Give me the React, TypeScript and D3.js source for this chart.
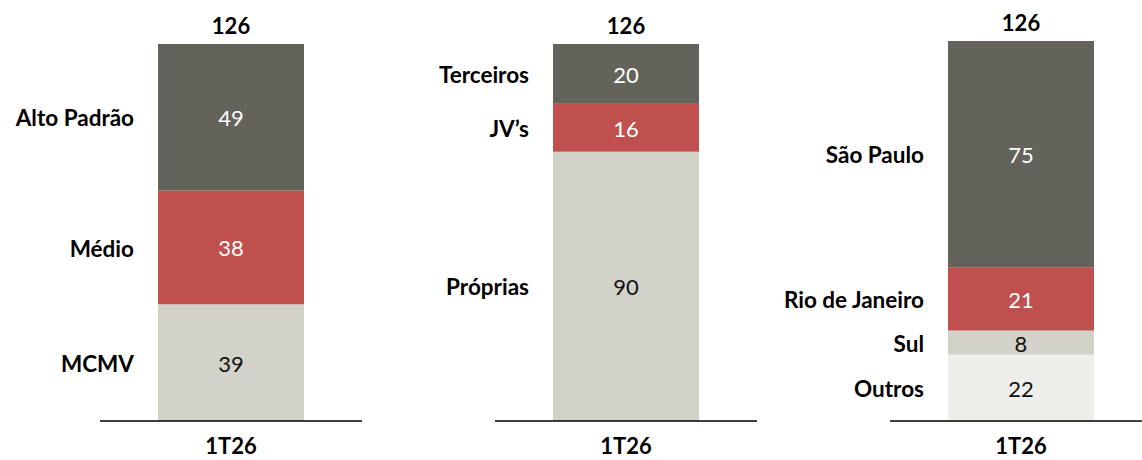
import { scaleLinear, scalePoint, stack } from "d3";

// one bar per panel, segments bottom -> top
const panels = ["segmento", "participacao", "regiao"];
const segLabels = [
  ["MCMV", "Médio", "Alto Padrão"],
  ["Próprias", "JV’s", "Terceiros"],
  ["Outros", "Sul", "Rio de Janeiro", "São Paulo"],
];
const segValues = [
  [39, 38, 49],
  [90, 16, 20],
  [22, 8, 21, 75],
];
const segColors = [
  ["#D2D2C9", "#C0504D", "#64635B"],
  ["#D2D2C9", "#C0504D", "#64635B"],
  ["#EEEEEB", "#D2D2C9", "#C0504D", "#64635B"],
];
const totals = [126, 126, 126];
const periodLabel = "1T26";
const panelTops = [44, 44, 41];

const W = 1142;
const H = 460;
const baseY = 421;
const barW = 146;
const axisHalf = 131;
const font = "Lato, 'Open Sans', sans-serif";

const darkFills = ["#64635B", "#C0504D"];

export default function App() {
  const x = scalePoint<string>().domain(panels).range([231, 1021]);

  return (
    <svg
      width={W}
      height={H}
      style={{ position: "absolute", left: 0, top: 0, background: "#fff" }}
      fontFamily={font}
    >
      {panels.map((p, i) => {
        const cx = x(p)!;
        const y = scaleLinear().domain([0, totals[i]]).range([baseY, panelTops[i]]);
        const keys = segValues[i].map((_, k) => String(k));
        const row: Record<string, number> = {};
        segValues[i].forEach((v, k) => (row[String(k)] = v));
        const series = stack<Record<string, number>>().keys(keys)([row]);

        return (
          <g key={p}>
            {series.map((s, k) => {
              const [y0, y1] = s[0];
              const top = y(y1);
              const bot = y(y0);
              const mid = (top + bot) / 2 + 1;
              const fill = segColors[i][k];
              return (
                <g key={k}>
                  <rect x={cx - barW / 2} y={top} width={barW} height={bot - top} fill={fill} />
                  <text
                    x={cx}
                    y={mid}
                    dy="0.36em"
                    textAnchor="middle"
                    fontSize={22}
                    fill={darkFills.includes(fill) ? "#fff" : "#111"}
                  >
                    {segValues[i][k]}
                  </text>
                  <text
                    x={cx - barW / 2 - 24}
                    y={mid}
                    dy="0.36em"
                    textAnchor="end"
                    fontSize={22.5}
                    fontWeight="bold"
                    fill="#000"
                  >
                    {segLabels[i][k]}
                  </text>
                </g>
              );
            })}
            <line x1={cx - axisHalf} x2={cx + axisHalf} y1={baseY} y2={baseY} stroke="#000" strokeWidth={1.5} />
            <text
              x={cx}
              y={y(totals[i]) - 18}
              dy="0.36em"
              textAnchor="middle"
              fontSize={22}
              fontWeight="bold"
              fill="#000"
            >
              {totals[i]}
            </text>
            <text x={cx} y={446} dy="0.36em" textAnchor="middle" fontSize={22} fontWeight="bold" fill="#000">
              {periodLabel}
            </text>
          </g>
        );
      })}
    </svg>
  );
}
